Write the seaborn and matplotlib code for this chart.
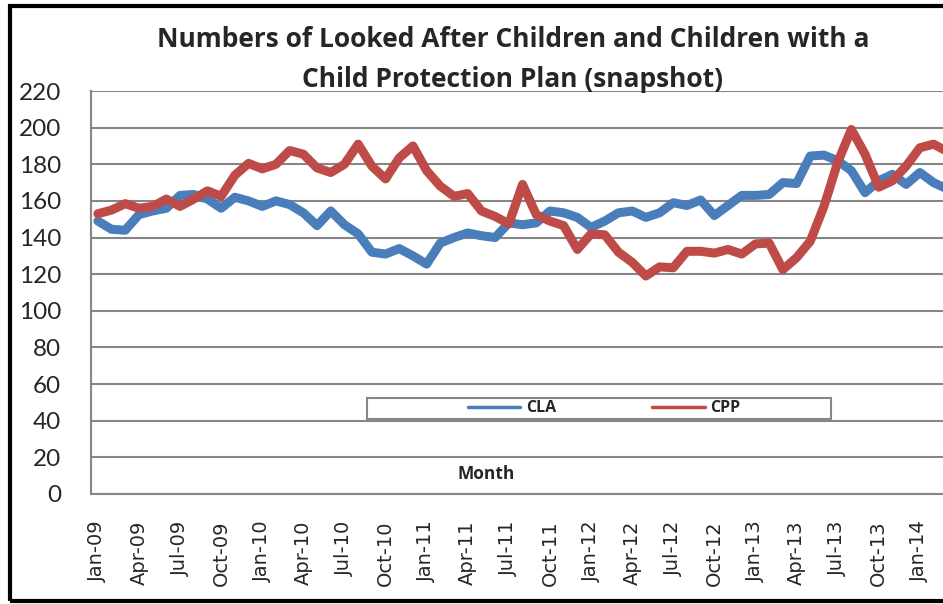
import pandas as pd
import numpy as np
import matplotlib
matplotlib.use('Agg')
import matplotlib.pyplot as plt
import seaborn as sns
from matplotlib.patches import Rectangle

# monthly snapshot, Jan-09 .. Mar-14
months = pd.date_range('2009-01-01', periods=63, freq='MS').strftime('%b-%y').tolist()

cla = [149, 144.5, 144, 152.5, 154.5, 156, 163, 163.5, 161, 156,
       162, 160, 157, 160, 158, 153.5, 146.5, 154.5, 147, 142,
       132, 131, 134, 130, 125.5, 137, 140, 142.5, 141, 140,
       148, 147, 148, 154.5, 153.5, 151, 145.5, 149, 153.5, 154.5,
       151, 153.5, 159, 157.5, 160.5, 152, 157.5, 163, 163, 163.5,
       170, 169.5, 184.5, 185, 182, 176.5, 164.5, 171, 174.5, 169,
       175.5, 170, 166.5]

cpp = [153, 155, 158.5, 156, 157, 161, 157, 161, 165.5, 162.5,
       174, 180.5, 177.5, 180, 187.5, 185.5, 178, 175.5, 180, 191,
       179, 172, 183.5, 190, 176.5, 168, 162.5, 164, 154.5, 151.5,
       147.5, 169, 152.5, 149, 146.5, 133.5, 142, 141.5, 132, 126.5,
       119, 124, 123.5, 132.5, 132.5, 131.5, 133.5, 131, 136.5, 137,
       122.5, 129, 138, 157, 181, 199, 185.5, 167.5, 171, 179,
       189, 191, 187]

series_names = ['CLA', 'CPP']
colors = ['#4A7EBB', '#BE4B48']
grey = '#868686'

df = pd.DataFrame({'idx': np.arange(len(months)), 'CLA': cla, 'CPP': cpp})
long = df.melt(id_vars='idx', var_name='series', value_name='count')

sns.set_style('white')
plt.rcParams['font.family'] = ['Lato', 'DejaVu Sans']
bold_font = ['Open Sans', 'DejaVu Sans']

W, H = 943, 604
fig = plt.figure(figsize=(W / 100, H / 100), dpi=100)
n = len(months)
px_per_month = 13.7
ax_left, ax_bottom, ax_top = 91, 494, 91
ax_right = ax_left + px_per_month * n
ax = fig.add_axes([ax_left / W, 1 - ax_bottom / H, (ax_right - ax_left) / W, (ax_bottom - ax_top) / H])

sns.lineplot(data=long, x='idx', y='count', hue='series', hue_order=series_names,
             palette=colors, linewidth=6.5, ax=ax, legend=True)
for ln in ax.lines:
    ln.set_solid_joinstyle('round')
    ln.set_solid_capstyle('round')

ax.set_xlim(-0.5, n - 0.5)
ax.set_ylim(0, 220)
ax.set_yticks(range(0, 221, 20))
ax.grid(axis='y', color=grey, linewidth=1.5)
ax.grid(axis='x', visible=False)
ax.set_axisbelow(True)
for s in ['top', 'right']:
    ax.spines[s].set_visible(False)
for s in ['left', 'bottom']:
    ax.spines[s].set_color(grey)
    ax.spines[s].set_linewidth(1.5)

# labels every quarter centred on the month, tick marks between months
ax.set_xticks(range(0, n, 3))
ax.set_xticklabels([months[i] for i in range(0, n, 3)], rotation=90,
                   family='DejaVu Sans', fontsize=14)
ax.set_xticks(np.arange(-0.5, n, 1), minor=True)
ax.tick_params(axis='x', which='major', length=0, pad=19)
ax.tick_params(axis='x', which='minor', length=5, width=1.2, color=grey, direction='out')
ax.tick_params(axis='y', length=6.5, width=1.5, color=grey, direction='out', pad=15, labelsize=17.5)
ax.set_xlabel('')
ax.set_ylabel('')

ax.text((486 - ax_left) / (ax_right - ax_left), (ax_bottom - 474) / (ax_bottom - ax_top), 'Month',
        transform=ax.transAxes, ha='center', va='center', fontsize=12.5, fontweight='bold',
        family=bold_font)

# legend in a wide grey box
ax.add_patch(Rectangle((367 / W, 1 - 419 / H), 464 / W, 21 / H, transform=fig.transFigure,
                       facecolor='white', edgecolor=grey, linewidth=1.5, zorder=4))
leg = ax.legend(loc='center', bbox_to_anchor=(604 / W, 1 - 408.5 / H), bbox_transform=fig.transFigure,
                ncol=2, frameon=False, prop={'weight': 'bold', 'size': 11.5, 'family': bold_font},
                handlelength=3.3, handletextpad=0.35, columnspacing=6.0, borderpad=0)
for h in leg.legend_handles:
    h.set_linewidth(2.5)

fig.text(513 / W, 1 - 47 / H, 'Numbers of Looked After Children and Children with a',
         ha='center', va='baseline', fontsize=19, fontweight='bold', family=bold_font)
fig.text(513 / W, 1 - 87 / H, 'Child Protection Plan (snapshot)',
         ha='center', va='baseline', fontsize=19, fontweight='bold', family=bold_font)

# outer chart frame
fig.patches.append(Rectangle((10 / W, 3 / H), 1.1, 595 / H, transform=fig.transFigure,
                             fill=False, edgecolor='black', linewidth=3, figure=fig))

fig.savefig('out.png', dpi=100)
